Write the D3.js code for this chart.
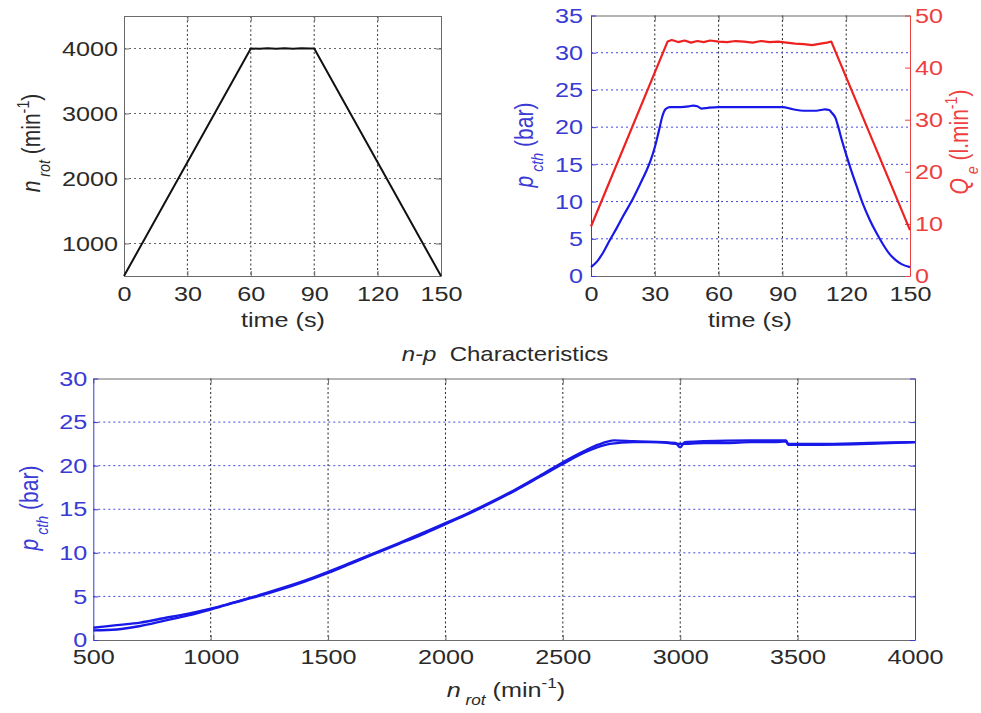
<!DOCTYPE html>
<html>
<head>
<meta charset="utf-8">
<script src="https://cdn.jsdelivr.net/npm/d3@7"></script>
<style>
  body { margin: 0; background: #fff; }
  text { white-space: pre; }
</style>
</head>
<body>
<div id="chart"></div>
<script>
// ---- data ----

// top left: rotor speed over time
const timeN = [0, 60, 64, 68, 72, 76, 80, 84, 88, 90, 150];
const nRot = [500, 4000, 3995, 4004, 3998, 4003, 3996, 4002, 3999, 4000, 500];

// top right: pressure (left axis) and flow (right axis) over time
const timeP = [0, 3, 6, 9, 12, 15, 19, 23, 26, 28, 30, 32, 33.5, 35, 37, 42, 46, 48, 50, 52, 55, 60, 70, 80, 90, 95, 100, 105, 108, 110, 112, 113, 115, 116, 118, 120, 122, 125, 128, 131, 134, 137, 140, 143, 146, 150];
const pCth = [1.2, 2.0, 3.3, 4.9, 6.4, 8.0, 10.0, 12.3, 14.1, 15.5, 17.3, 19.6, 21.4, 22.4, 22.7, 22.7, 22.8, 22.9, 22.8, 22.5, 22.6, 22.7, 22.7, 22.7, 22.7, 22.4, 22.2, 22.2, 22.3, 22.4, 22.3, 22.0, 21.2, 20.3, 18.2, 16.3, 14.5, 12.0, 9.6, 7.6, 5.9, 4.4, 3.1, 2.2, 1.6, 1.2];

const timeQ = [0, 36, 38, 41, 44, 47, 50, 53, 56, 60, 64, 68, 72, 76, 80, 84, 88, 92, 96, 100, 104, 108, 111, 113, 150];
const qE = [9.5, 45.0, 45.3, 44.9, 45.2, 44.8, 45.1, 44.9, 45.2, 45.0, 44.9, 45.1, 45.0, 44.8, 45.1, 44.9, 45.0, 44.8, 44.6, 44.5, 44.3, 44.6, 44.8, 45.0, 8.8];

// bottom: n-p characteristic, run-up and run-down branches
const nUp = [500, 600, 700, 800, 900, 1000, 1100, 1200, 1300, 1400, 1500, 1600, 1700, 1800, 1900, 2000, 2100, 2200, 2300, 2400, 2500, 2600, 2700, 2800, 2900, 3000, 3100, 3200, 3300, 3400, 3450, 3460, 3600, 3800, 4000];
const pUp = [1.4, 1.7, 2.0, 2.5, 3.0, 3.6, 4.3, 5.0, 5.8, 6.7, 7.7, 8.8, 9.9, 11.0, 12.1, 13.3, 14.5, 15.8, 17.2, 18.7, 20.2, 21.6, 22.5, 22.7, 22.7, 22.5, 22.6, 22.6, 22.7, 22.7, 22.8, 22.4, 22.4, 22.5, 22.7];
const nDown = [4000, 3800, 3600, 3460, 3450, 3300, 3100, 3020, 3000, 2980, 2800, 2720, 2650, 2600, 2500, 2400, 2300, 2200, 2100, 2000, 1800, 1600, 1400, 1200, 1000, 900, 800, 700, 600, 500];
const pDown = [22.7, 22.6, 22.5, 22.5, 22.9, 22.9, 22.8, 22.7, 22.1, 22.6, 22.8, 22.9, 22.4, 21.8, 20.4, 18.8, 17.3, 15.9, 14.6, 13.4, 11.1, 8.9, 6.8, 5.1, 3.5, 2.8, 2.2, 1.6, 1.2, 1.1];

// tick values
const timeTicks = [0, 30, 60, 90, 120, 150];
const nRotTicks = [1000, 2000, 3000, 4000];
const pTicksTop = [0, 5, 10, 15, 20, 25, 30, 35];
const qTicks = [0, 10, 20, 30, 40, 50];
const nTicks = [500, 1000, 1500, 2000, 2500, 3000, 3500, 4000];
const pTicksBottom = [0, 5, 10, 15, 20, 25, 30];

// ---- drawing ----
const width = 981, height = 713;
const fs = 21;      // tick font size
const sx = 1.2;     // the original figure is stretched sideways
const blueLine = "#1818e8", redLine = "#ee2020";
const blueAxis = "#3a3ad4", redAxis = "#ee4040";
const boxColor = "#6a6a6a", textColor = "#2a2a2a";
const plain = d3.format("d");

const svg = d3.select("#chart").append("svg")
  .attr("width", width)
  .attr("height", height)
  .style("font-family", '"Liberation Sans", Arial, sans-serif');

// axis with ticks pointing inwards, labels stretched like the original
function drawAxis(axis, tx, ty, color, labelColor) {
  const g = svg.append("g")
    .attr("transform", `translate(${tx},${ty})`)
    .call(axis)
    .attr("font-family", null)
    .attr("font-size", fs);
  g.select(".domain").attr("stroke", color);
  g.selectAll(".tick line").attr("stroke", color);
  g.selectAll(".tick text")
    .attr("fill", labelColor || color)
    .attr("transform", `scale(${sx},1)`);
  return g;
}

function vGrid(x, vals, y0, y1, color) {
  svg.append("g").selectAll("line").data(vals).join("line")
    .attr("x1", d => x(d)).attr("x2", d => x(d))
    .attr("y1", y0).attr("y2", y1)
    .attr("stroke", color).attr("stroke-width", 1)
    .attr("stroke-dasharray", "2,2.5");
}

function hGrid(y, vals, x0, x1, color) {
  svg.append("g").selectAll("line").data(vals).join("line")
    .attr("y1", d => y(d)).attr("y2", d => y(d))
    .attr("x1", x0).attr("x2", x1)
    .attr("stroke", color).attr("stroke-width", 1)
    .attr("stroke-dasharray", "2,3");
}

function drawLine(xs, ys, x, y, color, w, curve) {
  const pts = xs.map((d, i) => [d, ys[i]]);
  svg.append("path")
    .datum(pts)
    .attr("fill", "none")
    .attr("stroke", color)
    .attr("stroke-width", w)
    .attr("stroke-linejoin", "round")
    .attr("d", d3.line().curve(curve || d3.curveLinear).x(d => x(d[0])).y(d => y(d[1])));
}

// label with italic symbol, subscript and superscript parts
function richText(g, parts, size, color) {
  const t = g.append("text").attr("font-size", size).attr("fill", color);
  let shift = 0;
  parts.forEach(p => {
    const want = p.sub ? 0.4 * size : p.sup ? -0.45 * size : 0;
    t.append("tspan")
      .text(p.t)
      .attr("font-size", p.sub || p.sup ? size * 0.68 : size)
      .attr("font-style", p.it ? "italic" : null)
      .attr("dy", want - shift);
    shift = want;
  });
  return t;
}

function yLabel(parts, bx, cy, color) {
  const g = svg.append("g").attr("transform", `translate(${bx},${cy}) rotate(-90) scale(1,${sx})`);
  richText(g, parts, 21, color).attr("text-anchor", "middle");
}

function xLabel(parts, cx, by, color, size) {
  const g = svg.append("g").attr("transform", `translate(${cx},${by}) scale(${sx},1)`);
  richText(g, parts, size || 21, color).attr("text-anchor", "middle");
}

const nRotLabel = [{ t: "n", it: true }, { t: " rot", it: true, sub: true }, { t: " (min" }, { t: "-1", sup: true }, { t: ")" }];
const pLabel = [{ t: "p", it: true }, { t: " cth", it: true, sub: true }, { t: " (bar)" }];
const qLabel = [{ t: "Q", it: true }, { t: " e", it: true, sub: true }, { t: " (l.min" }, { t: "-1", sup: true }, { t: ")" }];

// ---------- top left ----------
{
  const x = d3.scaleLinear().domain([0, 150]).range([124, 441]);
  const y = d3.scaleLinear().domain([500, 4500]).range([276, 16]);
  vGrid(x, timeTicks.slice(1, -1), 16, 276, "#333");
  hGrid(y, nRotTicks, 124, 441, "#666");
  drawAxis(d3.axisBottom(x).tickValues(timeTicks).tickSizeInner(-5).tickSizeOuter(0).tickPadding(10), 0, 276, boxColor, textColor);
  drawAxis(d3.axisTop(x).tickValues(timeTicks).tickSizeInner(-5).tickSizeOuter(0).tickFormat(""), 0, 16, boxColor);
  drawAxis(d3.axisLeft(y).tickValues(nRotTicks).tickFormat(plain).tickSizeInner(-5).tickSizeOuter(0).tickPadding(6 / sx), 124, 0, boxColor, textColor);
  drawAxis(d3.axisRight(y).tickValues(nRotTicks).tickSizeInner(-5).tickSizeOuter(0).tickFormat(""), 441, 0, boxColor);
  drawLine(timeN, nRot, x, y, "#111", 2);
  xLabel([{ t: "time (s)" }], 283, 327, textColor);
  yLabel(nRotLabel, 40, 143, textColor);
}

// ---------- top right ----------
{
  const x = d3.scaleLinear().domain([0, 150]).range([591, 910]);
  const yL = d3.scaleLinear().domain([0, 35]).range([276, 15.5]);
  const yR = d3.scaleLinear().domain([0, 50]).range([276, 15.5]);
  vGrid(x, timeTicks.slice(1, -1), 15.5, 276, "#222");
  hGrid(yL, pTicksTop.slice(1, -1), 591, 910, "#4646e6");
  drawAxis(d3.axisBottom(x).tickValues(timeTicks).tickSizeInner(-5).tickSizeOuter(0).tickPadding(10), 0, 276, boxColor, textColor);
  drawAxis(d3.axisTop(x).tickValues(timeTicks).tickSizeInner(-5).tickSizeOuter(0).tickFormat(""), 0, 15.5, boxColor);
  drawAxis(d3.axisLeft(yL).tickValues(pTicksTop).tickSizeInner(-5).tickSizeOuter(0).tickPadding(8 / sx), 591, 0, blueAxis);
  drawAxis(d3.axisRight(yR).tickValues(qTicks).tickSizeInner(-5).tickSizeOuter(0).tickPadding(5 / sx), 910, 0, redAxis);
  drawLine(timeQ, qE, x, yR, redLine, 2.2);
  drawLine(timeP, pCth, x, yL, blueLine, 2.2, d3.curveMonotoneX);
  xLabel([{ t: "time (s)" }], 750, 327, textColor);
  yLabel(pLabel, 533, 145, blueAxis);
  yLabel(qLabel, 968, 142, redAxis);
}

// ---------- bottom ----------
{
  const x = d3.scaleLinear().domain([500, 4000]).range([93.3, 915]);
  const y = d3.scaleLinear().domain([0, 30]).range([640, 378.5]);
  vGrid(x, nTicks.slice(1, -1), 378.5, 640, "#222");
  hGrid(y, pTicksBottom.slice(1, -1), 93.3, 915, "#4646e6");
  drawAxis(d3.axisBottom(x).tickValues(nTicks).tickFormat(plain).tickSizeInner(-5).tickSizeOuter(0).tickPadding(9), 0, 640, boxColor, textColor);
  drawAxis(d3.axisTop(x).tickValues(nTicks).tickSizeInner(-5).tickSizeOuter(0).tickFormat(""), 0, 378.5, boxColor);
  drawAxis(d3.axisLeft(y).tickValues(pTicksBottom).tickSizeInner(-5).tickSizeOuter(0).tickPadding(6 / sx), 93.3, 0, blueAxis);
  drawAxis(d3.axisRight(y).tickValues(pTicksBottom).tickSizeInner(-5).tickSizeOuter(0).tickFormat(""), 915, 0, blueAxis);
  drawLine(nUp, pUp, x, y, blueLine, 2.4, d3.curveMonotoneX);
  drawLine(nDown, pDown, x, y, blueLine, 2.4, d3.curveMonotoneX);
  xLabel([{ t: "n-p", it: true }, { t: "  Characteristics" }], 505, 361, textColor, 20);
  xLabel(nRotLabel, 506, 697, textColor);
  yLabel(pLabel, 38, 508, blueAxis);
}
</script>
</body>
</html>
